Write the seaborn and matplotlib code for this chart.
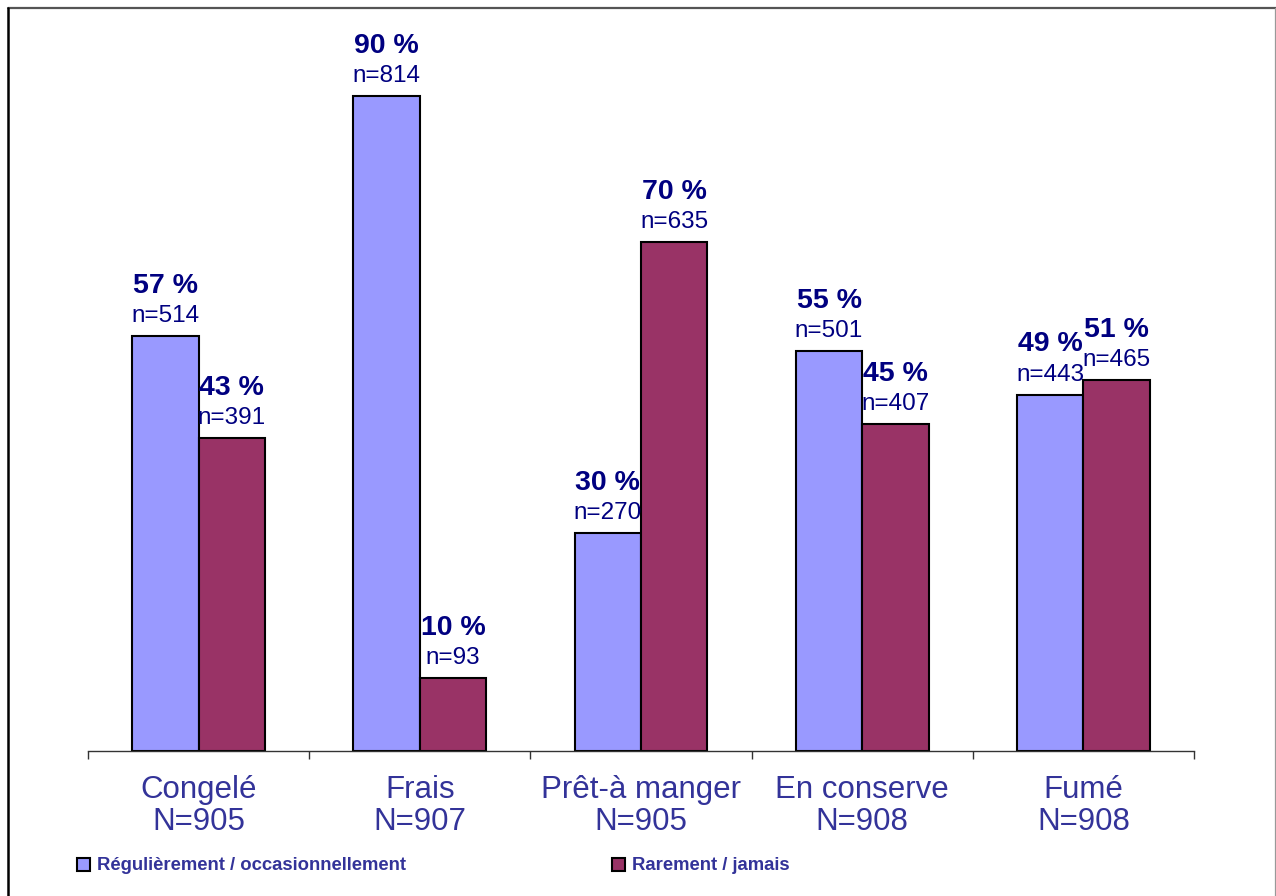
import matplotlib
matplotlib.use("Agg")
import matplotlib.pyplot as plt
from matplotlib.lines import Line2D
from matplotlib.patches import Rectangle
import seaborn as sns
import pandas as pd

# Chart data
categories = ["Congelé", "Frais", "Prêt-à manger", "En conserve", "Fumé"]
totals = [905, 907, 905, 908, 908]
series_names = ["Régulièrement / occasionnellement", "Rarement / jamais"]
pct_regular = [57, 90, 30, 55, 49]
pct_rare = [43, 10, 70, 45, 51]
n_regular = [514, 814, 270, 501, 443]
n_rare = [391, 93, 635, 407, 465]

colors = ["#9999FF", "#993366"]
navy = "#000080"
label_blue = "#333399"

df = pd.DataFrame({
    "Produit": categories * 2,
    "Fréquence": [series_names[0]] * len(categories) + [series_names[1]] * len(categories),
    "Pourcentage": pct_regular + pct_rare,
})

sns.set_theme(style="white")
plt.rcParams["font.family"] = ["Liberation Sans", "DejaVu Sans"]

W, H = 1276, 896
fig = plt.figure(figsize=(W / 100, H / 100), dpi=100)
fig.patch.set_facecolor("white")

x0, x1 = 88, 1194
y_base, y_top = 751, 751 - 727.5
ax = fig.add_axes([x0 / W, 1 - y_base / H, (x1 - x0) / W, (y_base - y_top) / H])

sns.barplot(data=df, x="Produit", y="Pourcentage", hue="Fréquence",
            order=categories, hue_order=series_names, palette=colors,
            width=0.6, edgecolor="black", linewidth=1.5, errorbar=None,
            saturation=1, legend=False, ax=ax)

ax.set_xlim(-0.5, len(categories) - 0.5)
ax.set_ylim(0, 100)
ax.set_facecolor("white")
for side in ["top", "right", "left"]:
    ax.spines[side].set_visible(False)
ax.spines["bottom"].set_color("#333333")
ax.spines["bottom"].set_linewidth(1.0)
ax.set_yticks([])
ax.set_xlabel("")
ax.set_ylabel("")

# Category labels centered under each group, boundary ticks between groups
ax.set_xticks(range(len(categories)))
ax.set_xticklabels([f"{c}\nN={t}" for c, t in zip(categories, totals)],
                   fontsize=22.5, color=label_blue)
for lbl in ax.get_xticklabels():
    lbl.set_linespacing(1.12)
ax.tick_params(axis="x", which="major", length=0, pad=17)
ax.set_xticks([i - 0.5 for i in range(len(categories) + 1)], minor=True)
ax.tick_params(axis="x", which="minor", bottom=True, direction="out",
               length=6, width=1, color="#333333")

# Value labels above each bar: percentage then count
pcts = [pct_regular, pct_rare]
counts = [n_regular, n_rare]
for s, cont in enumerate(ax.containers):
    for i, bar in enumerate(cont):
        cx = bar.get_x() + bar.get_width() / 2
        top = bar.get_height()
        ax.annotate(f"{pcts[s][i]} %", (cx, top), xytext=(0, 31),
                    textcoords="offset points", ha="center", va="baseline",
                    fontsize=20.5, fontweight="bold", color=navy)
        ax.annotate(f"n={counts[s][i]}", (cx, top), xytext=(0, 10),
                    textcoords="offset points", ha="center", va="baseline",
                    fontsize=17.5, color=navy)

# Legend along the bottom
leg_items = [(77, series_names[0], colors[0]), (612, series_names[1], colors[1])]
for px, name, col in leg_items:
    fig.patches.append(Rectangle((px / W, 1 - 871 / H), 13 / W, 13 / H,
                                 transform=fig.transFigure, facecolor=col,
                                 edgecolor="black", linewidth=1.5))
    fig.text((px + 20) / W, 1 - 865 / H, name, ha="left", va="center",
             fontsize=13.3, fontweight="bold", color=label_blue)

# Outer frame
def fline(xs, ys, color, lw):
    fig.add_artist(Line2D([x / W for x in xs], [1 - y / H for y in ys],
                          transform=fig.transFigure, color=color, linewidth=lw))

fline([8, 1276], [8, 8], "#555555", 1.6)
fline([8, 8], [8, 896], "black", 1.8)
fline([1275, 1275], [8, 896], "#999999", 0.9)

fig.savefig("out.png", dpi=100, facecolor="white")
